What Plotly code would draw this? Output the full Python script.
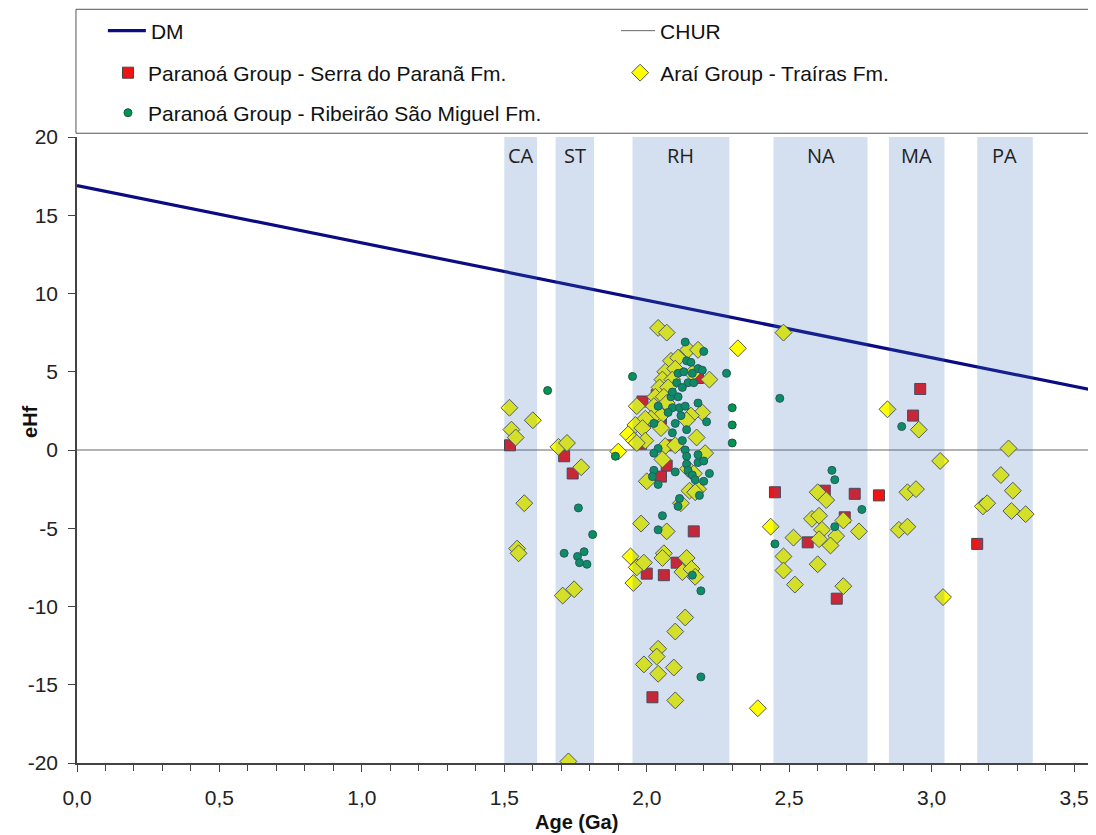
import plotly.graph_objects as go

# reference evolution lines (DM = depleted mantle, CHUR = chondritic)
ref_age = [0.0, 3.6]
dm_ehf = [16.9, 3.7]
chur_ehf = [0.0, 0.0]

# y tick labels (plain hyphen, as in the original)
y_ticks = [-20, -15, -10, -5, 0, 5, 10, 15, 20]
y_tick_text = ["-20", "-15", "-10", "-5", "0", "5", "10", "15", "20"]

# shaded age bands (Ga)
band_names = ["CA", "ST", "RH", "NA", "MA", "PA"]
band_start = [1.50, 1.68, 1.95, 2.445, 2.85, 3.16]
band_end = [1.615, 1.815, 2.29, 2.775, 3.045, 3.355]

# Paranoá Group - Serra do Paranã Fm.
serra_age = [1.52, 1.71, 1.74, 1.985, 2.035, 2.18, 2.05, 1.98, 2.09, 2.07, 2.05,
             2.165, 2.00, 2.06, 2.105, 2.02, 2.45, 2.625, 2.73, 2.815, 2.695,
             2.565, 2.667, 2.96, 2.935, 3.16]
serra_ehf = [0.3, -0.4, -1.5, 3.1, 3.5, 4.6, 2.0, 0.4, 0.3, -1.0, -1.7,
             -5.2, -7.9, -8.0, -7.2, -15.8, -2.7, -2.6, -2.8, -2.9, -4.3,
             -5.9, -9.5, 3.9, 2.2, -6.0]

# Araí Group - Traíras Fm.
trairas_age = [1.518, 1.60, 1.525, 1.54, 1.69, 1.72, 1.77, 1.57, 1.545, 1.55,
               1.745, 1.705, 1.90, 1.725,
               2.04, 2.07, 2.145, 2.18, 2.32, 2.085, 2.11, 2.065, 2.10, 2.055,
               2.09, 2.045, 2.075, 2.03, 2.06, 2.22, 2.16, 2.07, 2.025, 1.965,
               2.05, 2.015, 2.195, 2.155, 2.14, 1.995, 1.96, 1.985, 2.05, 1.935,
               1.955, 1.995, 1.965, 2.175, 2.065, 2.10, 2.205, 2.055, 2.145, 2.165,
               2.00, 2.15, 2.18, 2.17, 2.12, 1.98, 2.07, 1.943, 1.965, 1.99,
               1.953, 2.06, 2.055, 2.14, 2.125, 2.157, 2.17, 2.135, 2.10, 2.04,
               2.035, 1.99, 2.04, 2.095, 2.10,
               2.48, 2.435, 2.60, 2.63, 2.58, 2.605, 2.69, 2.615, 2.745, 2.515,
               2.605, 2.665, 2.645, 2.48, 2.48, 2.60, 2.52, 2.69, 2.39,
               2.845, 2.955, 3.03, 2.915, 2.945, 2.885, 2.915, 3.04,
               3.27, 3.243, 3.285, 3.18, 3.195, 3.28, 3.33]
trairas_ehf = [2.7, 1.9, 1.3, 0.8, 0.2, 0.45, -1.1, -3.4, -6.3, -6.6,
               -8.9, -9.3, -0.1, -19.9,
               7.8, 7.5, 6.4, 6.4, 6.5, 5.7, 5.9, 5.0, 5.2, 4.5,
               4.5, 4.0, 4.0, 3.4, 3.4, 4.5, 4.9, 3.0, 2.8, 2.8,
               2.2, 2.0, 2.4, 2.2, 1.9, 2.0, 1.6, 1.4, 1.4, 1.0,
               0.6, 0.6, 0.45, 0.8, 0.25, 0.3, -0.2, -0.6, -1.2, -1.5,
               -2.0, -2.6, -2.5, -2.7, -3.4, -4.7, -5.2, -6.8, -7.5, -7.2,
               -8.5, -6.6, -6.9, -6.9, -7.8, -7.6, -8.1, -10.7, -11.6, -12.7,
               -13.2, -13.7, -14.3, -13.9, -16.0,
               7.5, -4.9, -2.7, -3.2, -4.4, -4.2, -4.5, -5.1, -5.2, -5.6,
               -5.7, -5.5, -6.1, -6.8, -7.7, -7.3, -8.6, -8.7, -16.5,
               2.6, 1.3, -0.7, -2.7, -2.5, -5.1, -4.9, -9.4,
               0.1, -1.6, -2.6, -3.6, -3.4, -3.9, -4.1]

# Paranoá Group - Ribeirão São Miguel Fm.
ribeirao_age = [1.652, 1.95, 1.89, 1.76, 1.81, 1.71, 1.757, 1.78, 1.764, 1.79,
                2.30, 2.30, 2.30, 2.28,
                2.467, 2.65, 2.66, 2.755, 2.66, 2.45, 2.895,
                2.135, 2.20, 2.14, 2.155, 2.18, 2.195, 2.11, 2.13, 2.105, 2.145,
                2.125, 2.165, 2.085, 2.11, 2.18, 2.04, 2.09, 2.115, 2.075, 2.135,
                2.12, 2.21, 2.025, 2.10, 2.14, 2.09, 2.125, 2.04, 2.025, 2.135,
                2.14, 2.14, 2.18, 2.18, 2.20, 2.145, 2.10, 2.025, 2.22, 2.04,
                2.02, 2.16, 2.17, 2.20, 2.185, 2.115, 2.11, 2.055, 2.04, 2.16,
                2.19, 2.19, 2.09, 2.16]
ribeirao_ehf = [3.8, 4.7, -0.4, -3.7, -5.4, -6.6, -6.8, -6.5, -7.2, -7.3,
                2.7, 1.6, 0.45, 4.9,
                3.3, -1.3, -1.9, -3.8, -4.9, -6.0, 1.5,
                6.9, 6.3, 5.7, 5.6, 5.2, 5.1, 4.9, 5.0, 4.3, 4.3,
                4.0, 4.3, 3.4, 3.4, 3.0, 2.8, 2.7, 2.7, 2.4, 2.8,
                2.2, 1.8, 1.7, 1.7, 1.3, 1.1, 0.6, 0.1, -0.2, 0.0,
                -0.4, -0.9, -0.3, -0.8, -0.7, -1.3, -1.4, -1.3, -1.5, -2.2,
                -1.7, -1.6, -1.9, -2.0, -2.9, -3.1, -3.6, -4.2, -5.1, -8.0,
                -9.0, -14.5, 3.7, 4.9]

FONT = "Liberation Sans, Arial, sans-serif"

fig = go.Figure()

fig.add_trace(go.Scatter(x=ref_age, y=dm_ehf, mode="lines", name="DM",
                         line=dict(color="#0b0b82", width=3.2), legend="legend"))
fig.add_trace(go.Scatter(x=ref_age, y=chur_ehf, mode="lines", name="CHUR",
                         line=dict(color="#666666", width=1), legend="legend2"))
fig.add_trace(go.Scatter(
    x=serra_age, y=serra_ehf, mode="markers",
    name="Paranoá Group - Serra do Paranã Fm.",
    marker=dict(symbol="square", size=11, color="#f01414",
                line=dict(color="#444444", width=1)),
    legend="legend3",
))
fig.add_trace(go.Scatter(
    x=trairas_age, y=trairas_ehf, mode="markers",
    name="Araí Group - Traíras Fm.",
    marker=dict(symbol="diamond", size=13, color="#ffff00",
                line=dict(color="#555555", width=1)),
    legend="legend4",
))
fig.add_trace(go.Scatter(
    x=ribeirao_age, y=ribeirao_ehf, mode="markers",
    name="Paranoá Group - Ribeirão São Miguel Fm.",
    marker=dict(symbol="circle", size=8, color="#009650",
                line=dict(color="#225544", width=1)),
    legend="legend5",
))

# translucent bands drawn over the points, as in the original
for name, x0, x1 in zip(band_names, band_start, band_end):
    fig.add_shape(type="rect", xref="x", yref="paper", x0=x0, x1=x1, y0=0, y1=1,
                  fillcolor="rgb(60,110,187)", opacity=0.22, line_width=0,
                  layer="above")
    fig.add_annotation(x=(x0 + x1) / 2, y=18.85, text=name, showarrow=False,
                       font=dict(family="Open Sans, sans-serif", size=20, color="#222222"))

# legend frame
fig.add_shape(type="rect", xref="paper", yref="paper", x0=-0.001, x1=1.02,
              y0=1.006, y1=1.204, line=dict(color="#555555", width=1),
              fillcolor="white", layer="below")

legend_font = dict(family=FONT, size=21, color="#111111")
col1 = 0.0304
col2 = 0.533


def legend_box(x, y, itemwidth=30):
    return dict(x=x, y=y, xanchor="left", yanchor="middle", orientation="h",
                bgcolor="rgba(0,0,0,0)", font=legend_font, itemwidth=itemwidth)


# the page body adds an 8px offset, so the figure is 8px smaller than the window
fig.update_layout(
    width=1088,
    height=827,
    margin=dict(l=69, r=0, t=129, b=72, autoexpand=False),
    showlegend=True,
    plot_bgcolor="white",
    paper_bgcolor="white",
    separators=",.",
    font=dict(family=FONT, size=21, color="#222222"),
    legend=legend_box(col1 - 0.005, 1.1693, 38),
    legend2=legend_box(col2 - 0.004, 1.1693, 34),
    legend3=legend_box(col1, 1.1022),
    legend4=legend_box(col2, 1.1022),
    legend5=legend_box(col1, 1.0383),
    xaxis=dict(
        range=[0, 3.577], dtick=0.5, tickformat=".1f", showgrid=False,
        zeroline=False, showline=True, linecolor="#444444", linewidth=1.5,
        ticks="outside", ticklen=7, tickcolor="#444444", ticklabelstandoff=8,
        minor=dict(dtick=0.1, ticks="outside", ticklen=6, tickcolor="#444444"),
        tickfont=dict(family=FONT, size=21, color="#222222"),
    ),
    yaxis=dict(
        range=[-20, 20], tickvals=y_ticks, ticktext=y_tick_text, showgrid=False,
        zeroline=False, showline=True, linecolor="#444444", linewidth=1.5,
        ticks="outside", ticklen=7, tickcolor="#444444", ticklabelstandoff=6,
        tickfont=dict(family=FONT, size=21, color="#222222"),
    ),
    annotations=list(fig.layout.annotations) + [
        dict(text="<b>Age (Ga)</b>", xref="paper", yref="paper", x=0.49, y=-0.094,
             showarrow=False, yanchor="middle",
             font=dict(family=FONT, size=20, color="#111111")),
        dict(text="<b>eHf</b>", xref="paper", yref="paper", x=-0.046, y=0.545,
             showarrow=False, textangle=-90, xanchor="center", yanchor="middle",
             font=dict(family=FONT, size=20, color="#111111")),
    ],
)

fig.write_html("out.html")
